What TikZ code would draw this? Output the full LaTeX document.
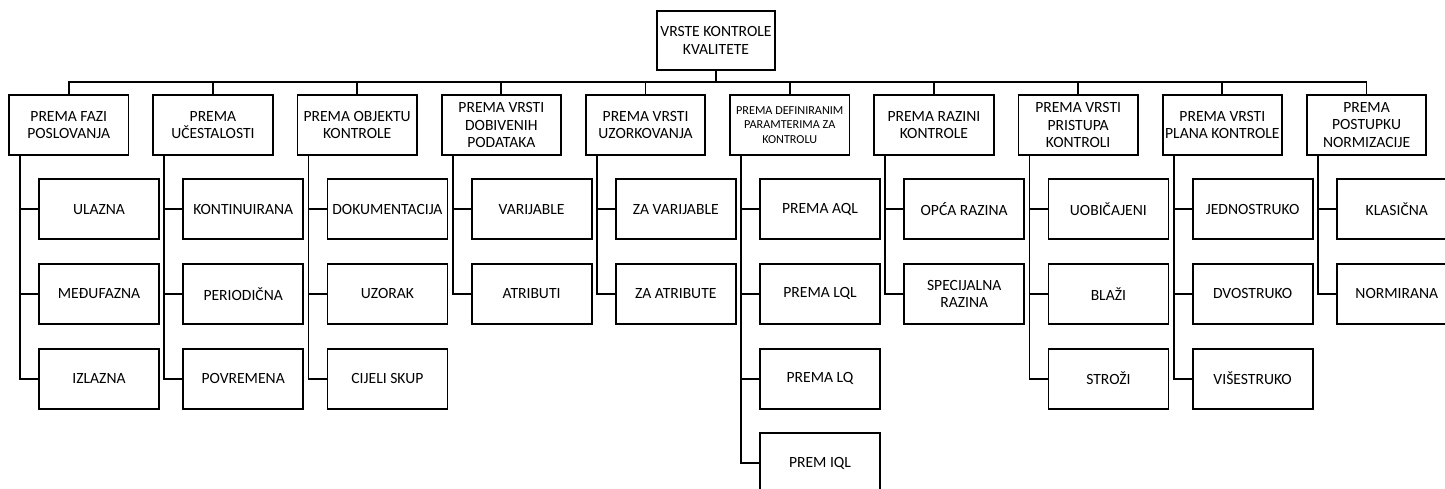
\documentclass[tikz,border=0pt]{standalone}
\usepackage{fontspec}
\setmainfont{Carlito}
\begin{document}
\begin{tikzpicture}[x=1pt,y=-1pt,
  box/.style={draw, line width=1.8pt, minimum width=119.5pt, minimum height=60pt,
    inner sep=0pt, align=center, font=\fontsize{15.6}{17.7}\selectfont},
  kid/.style={box, minimum width=120pt},
  small/.style={font=\fontsize{12.2}{14.2}\selectfont},
  link/.style={line width=1.8pt}]
\useasboundingbox (0,0) rectangle (1445,488);

% root
\node[box, minimum width=118pt, minimum height=59pt] (root) at (716,40.5) {VRSTE KONTROLE\\KVALITETE};
\coordinate (bus) at (716,82);

% categories
\node[box] (c1) at (68.75,125) {PREMA FAZI\\POSLOVANJA};
\node[box] (c2) at (212.95,125) {PREMA\\UČESTALOSTI};
\node[box] (c3) at (357.15,125) {PREMA OBJEKTU\\KONTROLE};
\node[box] (c4) at (501.35,125) {PREMA VRSTI\\DOBIVENIH\\PODATAKA};
\node[box] (c5) at (645.55,125) {PREMA VRSTI\\UZORKOVANJA};
\node[box, small] (c6) at (789.75,125) {PREMA DEFINIRANIM\\PARAMTERIMA ZA\\KONTROLU};
\node[box] (c7) at (933.95,125) {PREMA RAZINI\\KONTROLE};
\node[box] (c8) at (1078.15,125) {PREMA VRSTI\\PRISTUPA\\KONTROLI};
\node[box] (c9) at (1222.35,125) {PREMA VRSTI\\PLANA KONTROLE};
\node[box] (c10) at (1366.55,125) {PREMA\\POSTUPKU\\NORMIZACIJE};

% children
\node[kid] (k1a) at (99,209.2) {ULAZNA};
\node[kid] (k1b) at (99,293.9) {MEĐUFAZNA};
\node[kid] (k1c) at (99,378.6) {IZLAZNA};

\node[kid] (k2a) at (243.2,209.2) {KONTINUIRANA};
\node[kid] (k2b) at (243.2,293.9) {PERIODIČNA};
\node[kid] (k2c) at (243.2,378.6) {POVREMENA};

\node[kid] (k3a) at (387.4,209.2) {DOKUMENTACIJA};
\node[kid] (k3b) at (387.4,293.9) {UZORAK};
\node[kid] (k3c) at (387.4,378.6) {CIJELI SKUP};

\node[kid] (k4a) at (531.6,209.2) {VARIJABLE};
\node[kid] (k4b) at (531.6,293.9) {ATRIBUTI};

\node[kid] (k5a) at (675.8,209.2) {ZA VARIJABLE};
\node[kid] (k5b) at (675.8,293.9) {ZA ATRIBUTE};

\node[kid] (k6a) at (820,209.2) {PREMA AQL};
\node[kid] (k6b) at (820,293.9) {PREMA LQL};
\node[kid] (k6c) at (820,378.6) {PREMA LQ};
\node[kid] (k6d) at (820,463.3) {PREM IQL};

\node[kid] (k7a) at (964.2,209.2) {OPĆA RAZINA};
\node[kid] (k7b) at (964.2,293.9) {SPECIJALNA\\RAZINA};

\node[kid] (k8a) at (1108.4,209.2) {UOBIČAJENI};
\node[kid] (k8b) at (1108.4,293.9) {BLAŽI};
\node[kid] (k8c) at (1108.4,378.6) {STROŽI};

\node[kid] (k9a) at (1252.6,209.2) {JEDNOSTRUKO};
\node[kid] (k9b) at (1252.6,293.9) {DVOSTRUKO};
\node[kid] (k9c) at (1252.6,378.6) {VIŠESTRUKO};

\node[kid] (k10a) at (1396.8,209.2) {KLASIČNA};
\node[kid] (k10b) at (1396.8,293.9) {NORMIRANA};

% root to bus
\draw[link] (root.south) -- (bus);
\foreach \c in {c1,c2,c3,c4,c5,c6,c7,c8,c9,c10}
  \draw[link] (\c.north) |- (bus);

% category to children
\foreach \c/\k in {c1/k1a,c1/k1b,c1/k1c,c2/k2a,c2/k2b,c2/k2c,c3/k3a,c3/k3b,c3/k3c,
  c4/k4a,c4/k4b,c5/k5a,c5/k5b,c6/k6a,c6/k6b,c6/k6c,c6/k6d,c7/k7a,c7/k7b,
  c8/k8a,c8/k8b,c8/k8c,c9/k9a,c9/k9b,c9/k9c,c10/k10a,c10/k10b}
  \draw[link] ([xshift=12pt]\c.south west) |- (\k.west);
\end{tikzpicture}
\end{document}
